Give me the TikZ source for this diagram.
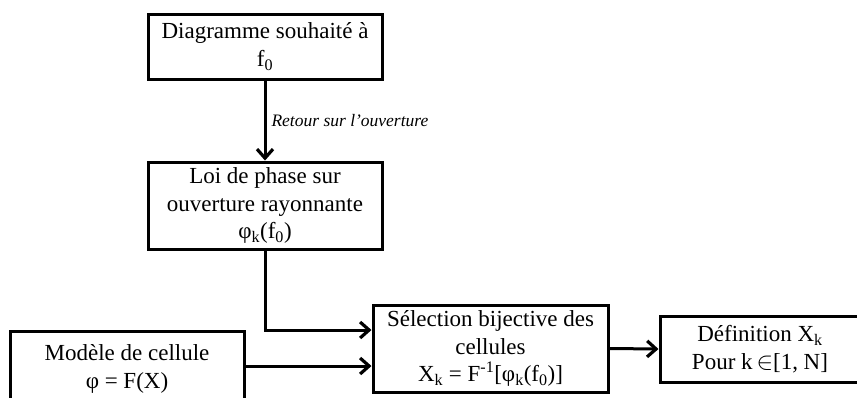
\documentclass[tikz,border=0pt]{standalone}
\usepackage{fontspec}
\setmainfont{Liberation Serif}
\usetikzlibrary{arrows.meta}
\begin{document}
\begin{tikzpicture}[x=1pt,y=-1pt,
  box/.style={draw=black,line width=3pt,align=center,inner sep=0pt,
    font=\fontsize{23}{27.5}\selectfont},
  arr/.style={line width=3pt,-{Straight Barb[length=9pt,width=16pt,line width=3.2pt]}},
  lbl/.style={font=\itshape\fontsize{17.5}{20}\selectfont,inner sep=0pt}]
\useasboundingbox (0,0) rectangle (857,397);
\fill[white] (0,0) rectangle (857,397);
\node[box,minimum width=234pt,minimum height=65pt] (b1) at (265,46.5)
  {Diagramme souhaité à\\f\textsubscript{0}};
\node[box,minimum width=234pt,minimum height=87pt] (b2) at (265,205.5)
  {Loi de phase sur\\ouverture rayonnante\\φ\textsubscript{k}(f\textsubscript{0})};
\node[box,minimum width=235pt,minimum height=87pt] (b3) at (490.5,348.5)
  {Sélection bijective des\\cellules\\X\textsubscript{k} = F\textsuperscript{-1}[φ\textsubscript{k}(f\textsubscript{0})]};
\node[box,minimum width=234pt,minimum height=76pt] (b4) at (127,369)
  {Modèle de cellule\\φ = F(X)};
\node[box,minimum width=200pt,minimum height=66pt] (b5) at (760,349)
  {Définition X\textsubscript{k}\\Pour k\,$\in$[1, N]};
\draw[arr] (b1.south) -- node[lbl,anchor=west,xshift=5pt] (l1) {Retour sur l’ouverture} (b2.north);
\draw[arr] (b2.south) |- ([yshift=18.5pt]b3.west);
\draw[arr] ([yshift=3pt]b4.east) -- ([yshift=3pt]b4.east -| b3.west);
\draw[arr] (b3.east) -- (b5.west);
\end{tikzpicture}
\end{document}
